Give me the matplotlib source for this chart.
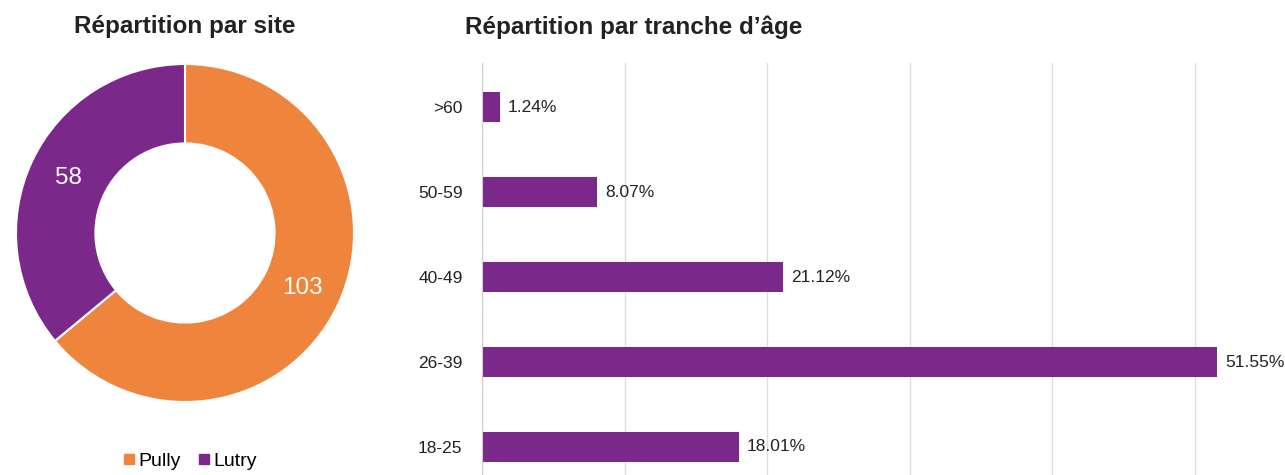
# Répartition par site / par tranche d'âge

import matplotlib.pyplot as plt
import numpy as np
from matplotlib.lines import Line2D

sites = ['Pully', 'Lutry']
site_counts = [103, 58]

ages = ['>60', '50-59', '40-49', '26-39', '18-25']
age_pct = [1.24, 8.07, 21.12, 51.55, 18.01]

orange = '#EF843C'
purple = '#7A2889'
W, H = 1285, 475

plt.rcParams['font.family'] = ['Liberation Sans', 'DejaVu Sans']
fig = plt.figure(figsize=(W / 100, H / 100), dpi=100)

# donut
ax1 = fig.add_axes([16 / W, 1 - 402 / H, 338 / W, 338 / H])
wedges, texts = ax1.pie(site_counts, colors=[orange, purple], startangle=90,
                        counterclock=False, radius=1,
                        wedgeprops=dict(width=0.47, edgecolor='white', linewidth=1.5))
for w in wedges:
    w.set_clip_on(False)
for w, n in zip(wedges, site_counts):
    ang = np.deg2rad((w.theta1 + w.theta2) / 2)
    r = 1 - 0.47 / 2
    ax1.text(r * np.cos(ang), r * np.sin(ang), str(n), color='white',
             fontsize=17.5, ha='center', va='center')
ax1.set_xlim(-1, 1)
ax1.set_ylim(-1, 1)
ax1.set_aspect('equal')
ax1.axis('off')

fig.text(185 / W, 1 - 27 / H, 'Répartition par site', fontsize=17.5, fontweight='bold',
         ha='center', va='center', color='#222222')

handles = [Line2D([], [], marker='s', ls='', color=c, markersize=7) for c in [orange, purple]]
fig.legend(handles, sites, loc='center', bbox_to_anchor=(189 / W, 1 - 461 / H),
           ncol=2, frameon=False, fontsize=14, handletextpad=0.1, columnspacing=0.8,
           handlelength=0.8)

# bars
x0 = 482
ax2 = fig.add_axes([x0 / W, 0, (W - x0) / W, 1 - 63 / H])
y = list(range(len(ages)))
ax2.barh(y, age_pct, height=0.35, color=purple, zorder=2)
for yi, v in zip(y, age_pct):
    ax2.annotate(f'{v:.2f}%', (v, yi), xytext=(6, 0), textcoords='offset points',
                 va='center', ha='left', fontsize=12.5, color='#222222',
                 annotation_clip=False)
ax2.set_xlim(0, (W - x0) / 14.25)
ax2.set_ylim(4.33, -0.52)
ax2.set_yticks(y)
ax2.set_yticklabels(ages, fontsize=12.5, color='#222222')
ax2.set_xticks([0, 10, 20, 30, 40, 50])
ax2.tick_params(axis='x', length=0, labelbottom=False)
ax2.tick_params(axis='y', length=0, pad=14)
ax2.grid(axis='x', color='#DDDDDD', linewidth=1, zorder=0)
for s in ['top', 'right', 'bottom']:
    ax2.spines[s].set_visible(False)
ax2.spines['left'].set_color('#CCCCCC')

fig.text(465 / W, 1 - 27 / H, 'Répartition par tranche d\u2019âge', fontsize=17.5,
         fontweight='bold', ha='left', va='center', color='#222222')

fig.savefig('out.png', dpi=100)
